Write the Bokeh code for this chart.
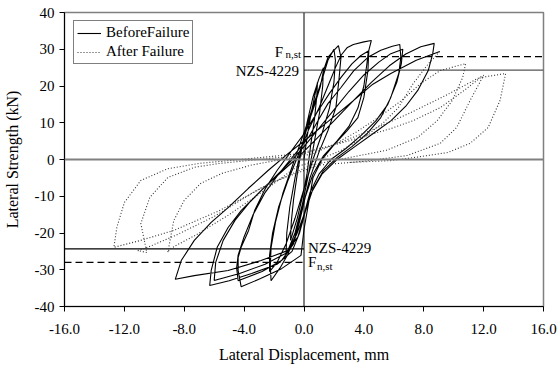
from bokeh.plotting import figure
from bokeh.models import Span, Label, FixedTicker, NumeralTickFormatter, Range1d
from bokeh.embed import file_html
from bokeh.resources import INLINE

# ---- data ----
before_x = [0.0, 0.2, 0.45, 0.7, 0.9,
            0.85, 0.7, 0.45, 0.2, -0.1, -0.45, -0.9,
            -0.85, -0.7, -0.45, -0.15, 0.2, 0.6, 1.0, 1.3,
            1.25, 1.05, 0.7, 0.3, -0.1, -0.6, -1.2,
            -1.15, -0.95, -0.6, -0.2, 0.3, 0.8, 1.1, 1.3, 1.6, 2.0, 2.3,
            2.47, 2.33, 2.13, 1.6, 1.0, 0.4, -0.1, -0.6, -1.1, -1.6, -2.2,
            -2.25, -2.2, -1.9, -1.4, -0.8, -0.2, 0.4, 0.9, 1.3, 1.6, 2.0,
            2.1, 2.0, 1.7, 1.2, 0.6, 0.0, -0.6, -1.2, -1.8, -2.3,
            -2.3, -2.1, -1.7, -1.1, -0.4, 0.3, 1.0, 1.6, 2.1, 2.5, 2.9, 3.3, 4.0, 4.5,
            4.33, 4.27, 4.0, 3.6, 2.9, 2.0, 1.2, 0.6, 0.3, 0.0, -0.2, -1.5, -2.9, -4.2,
            -4.4, -4.4, -4.2, -3.7, -3.3, -2.6, -1.8, -0.9, 0.0, 0.9, 1.7, 2.5, 3.2, 3.8, 4.3,
            4.2, 4.0, 3.6, 3.0, 2.2, 1.3, 0.6, 0.1, -0.3, -0.7, -1.5, -2.8, -4.4,
            -4.5, -4.4, -4.0, -3.4, -2.6, -1.7, -0.7, 0.3, 1.0, 1.6, 2.47, 3.33, 4.27, 5.13, 5.9, 6.4,
            6.47, 6.33, 5.8, 5.13, 4.2, 3.2, 2.2, 1.3, 0.6, 0.1, -0.3, -0.8, -1.8, -3.5, -5.0, -6.3,
            -6.2, -5.8, -5.07, -4.2, -3.07, -2.0, -1.0, 0.0, 1.0, 2.0, 3.0, 4.0, 5.0, 5.8, 6.6,
            6.5, 6.2, 5.6, 4.8, 3.8, 2.8, 1.8, 1.0, 0.4, 0.0, -0.4, -1.2, -2.6, -4.3, -6.0,
            -5.9, -5.4, -4.6, -3.6, -2.5, -1.4, -0.3, 0.8, 2.0, 3.3, 4.5, 5.7, 6.8, 7.8, 8.7,
            8.6, 8.3, 7.6, 6.8, 5.8, 4.6, 3.4, 2.2, 1.2, 0.5, 0.0, -0.5, -1.1, -2.87, -5.07, -7.33, -8.6,
            -8.2, -7.33, -6.2, -5.07, -3.73, -2.4, -1.07, 0.3, 1.8, 3.3, 4.6, 5.8, 7.5, 9.07]
before_y = [0.0, 6, 12, 17, 21,
            17, 11, 4, -4, -10, -16, -22,
            -17, -11, -4, 3, 10, 17, 22, 25,
            20, 13, 5, -4, -12, -20, -26,
            -20, -13, -5, 3, 10, 16, 20, 24.2, 27.8, 29.7, 31.0,
            27.8, 21.5, 14.1, 7.9, 2, -5, -13, -21, -26, -29.5, -33.0,
            -29, -24, -17, -9, -2, 5, 12, 18, 23, 27, 30.0,
            27, 21, 14, 7, 0, -8, -16, -23, -28, -30.5,
            -26, -20, -13, -6, 1, 8, 14, 20, 25, 28.5, 30.5, 31.3, 32.0, 32.4,
            29.7, 24.2, 16.9, 11.4, 7.9, 4, 0, -5, -12, -19, -26.1, -29.7, -32.4, -34.6,
            -30.2, -26.7, -23.9, -19.3, -13.9, -8, -3, 2, 7, 13, 18, 22.5, 26, 28.3, 29.5,
            26, 20, 14, 9, 5, 1, -4, -10, -17, -23, -27.5, -30.5, -33.0,
            -29.5, -26, -21, -15, -9, -4, 1, 6, 11, 15.2, 19.6, 24.2, 27.8, 29.7, 30.8, 31.3,
            27.8, 23.4, 16.9, 11.4, 7, 3.5, 0.5, -3, -8, -14, -20, -25, -28.5, -31, -33, -34.3,
            -30.2, -23.9, -18.5, -13.9, -9.3, -5, -1, 3.5, 8.5, 13.5, 18.5, 23, 26.5, 28.8, 30.0,
            26, 21, 15, 10.5, 6.5, 3, 0, -4, -9, -15, -21, -25.5, -28.5, -31, -32.9,
            -28, -22, -16.5, -11.5, -7, -3, 1, 5.5, 10.5, 16, 21, 25.5, 28.7, 30.7, 31.6,
            28.8, 24.2, 18.8, 14.5, 10.5, 7, 3.5, 0, -4, -9, -15, -20.5, -24.8, -27.5, -30.2, -31.6, -32.6,
            -27.5, -22, -17.1, -13.1, -7.9, -3, 1.6, 6, 11, 16, 20.5, 23.4, 27, 29.4]

after_x = [9.07, 8.3, 7.3, 6.3, 5.3, 4.0, 2.5, 1.0, -0.5, -2.5, -5.0, -7.2, -8.6, -9.0, -9.1,
           -8.7, -8.0, -6.9, -5.5, -3.5, -1.5, 0.5, 2.0, 3.5, 5.0, 6.5, 7.8, 9.1, 10.8,
           10.6, 9.9, 8.9, 7.6, 5.5, 3.0, 0.5, -3.0, -6.0, -8.5, -10.5, -11.1, -10.5,
           -10.9, -10.3, -9.1, -7.3, -5.7, -3.0, -0.5, 2.0, 4.5, 7.0, 9.5, 12.0,
           11.1, 10.2, 9.1, 6.9, 4.0, 1.0, -2.0, -5.7, -8.7, -10.9, -12.7,
           -12.5, -12.0, -10.9, -9.1, -6.9, -5.5, -3.0, -0.5, 2.5, 5.8, 7.3, 9.1, 10.7, 11.8, 13.47,
           13.1, 12.3, 11.1, 9.6, 7.3, 5.8, 3.0]
after_y = [29.4, 26.0, 20.7, 14.1, 10.0, 6.0, 2.5, 0.0, -2.0, -8.0, -15.0, -20.5, -23.5, -24.5, -25.3,
           -16.6, -11.1, -6.5, -3.8, -1.5, 0.0, 1.5, 4.0, 7.5, 11.5, 16.0, 20.7, 24.2, 26.1,
           22.3, 16.0, 10.6, 6.0, 2.5, 0.5, -1.5, -8.0, -15.5, -20.5, -24.0, -24.8, -25.3,
           -17.4, -10.3, -4.9, -2.1, -1.1, 0.0, 1.0, 4.0, 8.0, 12.5, 17.5, 22.9,
           16.1, 8.7, 4.4, 1.1, -0.5, -1.5, -6.0, -14.0, -19.3, -22.0, -23.9,
           -18.4, -11.7, -5.7, -2.5, -1.0, -0.5, 0.5, 1.5, 4.5, 8.4, 10.6, 14.1, 18.8, 22.3, 23.4,
           16.1, 8.7, 4.4, 1.9, 0.5, -0.3, -0.8]

ref_x_right = [0.0, 16.0]
ref_x_left = [-16.0, 0.0]
fnst_level = 28.0
nzs_level = 24.3

x_ticks = [-16, -12, -8, -4, 0, 4, 8, 12, 16]
y_ticks = [-40, -30, -20, -10, 0, 10, 20, 30, 40]

FONT = "Liberation Serif"

p = figure(width=558, height=371, output_backend="svg", toolbar_location=None,
           x_range=Range1d(-16, 16), y_range=Range1d(-40, 40),
           min_border_left=63, min_border_right=15, min_border_top=12, min_border_bottom=65)
p.grid.visible = False
p.outline_line_color = "#808080"
p.outline_line_width = 1.5
p.background_fill_color = "white"
p.border_fill_color = "white"

# zero lines
p.add_layout(Span(location=0, dimension="width", line_color="#808080", line_width=2))
p.add_layout(Span(location=0, dimension="height", line_color="black", line_width=1))

# reference levels
p.line(ref_x_right, [fnst_level, fnst_level], line_color="black", line_width=1.2, line_dash="7 4")
p.line(ref_x_right, [nzs_level, nzs_level], line_color="#555555", line_width=1.3)
p.line(ref_x_left, [-nzs_level, -nzs_level], line_color="black", line_width=1.2)
p.line(ref_x_left, [-fnst_level, -fnst_level], line_color="black", line_width=1.2, line_dash="7 4")

# hysteresis curves
p.line(before_x, before_y, line_color="black", line_width=1.1, legend_label="BeforeFailure")
p.line(after_x, after_y, line_color="#333333", line_width=1.1, line_dash="1 2", legend_label="After Failure")

# axes
for ax in (p.xaxis[0], p.yaxis[0]):
    ax.axis_line_color = "black"
    ax.axis_line_width = 1
    ax.major_tick_line_color = "black"
    ax.major_tick_out = 5
    ax.major_tick_in = 0
    ax.minor_tick_line_color = None
    ax.major_label_text_font = FONT
    ax.major_label_text_font_size = "15px"
    ax.major_label_text_color = "black"
    ax.axis_label_text_font = FONT
    ax.axis_label_text_font_size = "16px"
    ax.axis_label_text_font_style = "normal"
    ax.axis_label_text_color = "black"

p.xaxis[0].ticker = FixedTicker(ticks=x_ticks)
p.yaxis[0].ticker = FixedTicker(ticks=y_ticks)
p.xaxis[0].formatter = NumeralTickFormatter(format="0.0")
p.yaxis[0].formatter = NumeralTickFormatter(format="0")
p.xaxis[0].axis_label = "Lateral Displacement, mm"
p.yaxis[0].axis_label = "Lateral Strength (kN)"
p.xaxis[0].major_label_standoff = 12
p.yaxis[0].major_label_standoff = 5
p.xaxis[0].axis_label_standoff = 9
p.yaxis[0].axis_label_standoff = 11

# annotations
def lab(x, y, text, size, align, xo, yo):
    p.add_layout(Label(x=x, y=y, text=text, text_font=FONT, text_font_size=size,
                       text_align=align, text_baseline="alphabetic",
                       x_offset=xo, y_offset=yo, text_color="black"))

lab(0, fnst_level, "F", "15px", "right", -21, 5)
lab(0, fnst_level, "n,st", "11px", "right", -3, 2.5)
lab(0, nzs_level, "NZS-4229", "15px", "right", -5, -1)
lab(0, -nzs_level, "NZS-4229", "15px", "left", 4, 1)
lab(0, -fnst_level, "F", "15px", "left", 4, 0)
lab(0, -fnst_level, "n,st", "11px", "left", 13, -3.5)

# legend
lg = p.legend[0]
lg.location = (9, 242)
lg.label_text_font = FONT
lg.label_text_font_size = "15px"
lg.label_text_color = "black"
lg.border_line_color = "black"
lg.border_line_width = 1
lg.background_fill_alpha = 1
lg.padding = 3
lg.spacing = 2
lg.label_height = 16
lg.glyph_height = 16
lg.glyph_width = 24
lg.label_standoff = 5
lg.margin = 0

open("out.html", "w").write(file_html(p, INLINE))
